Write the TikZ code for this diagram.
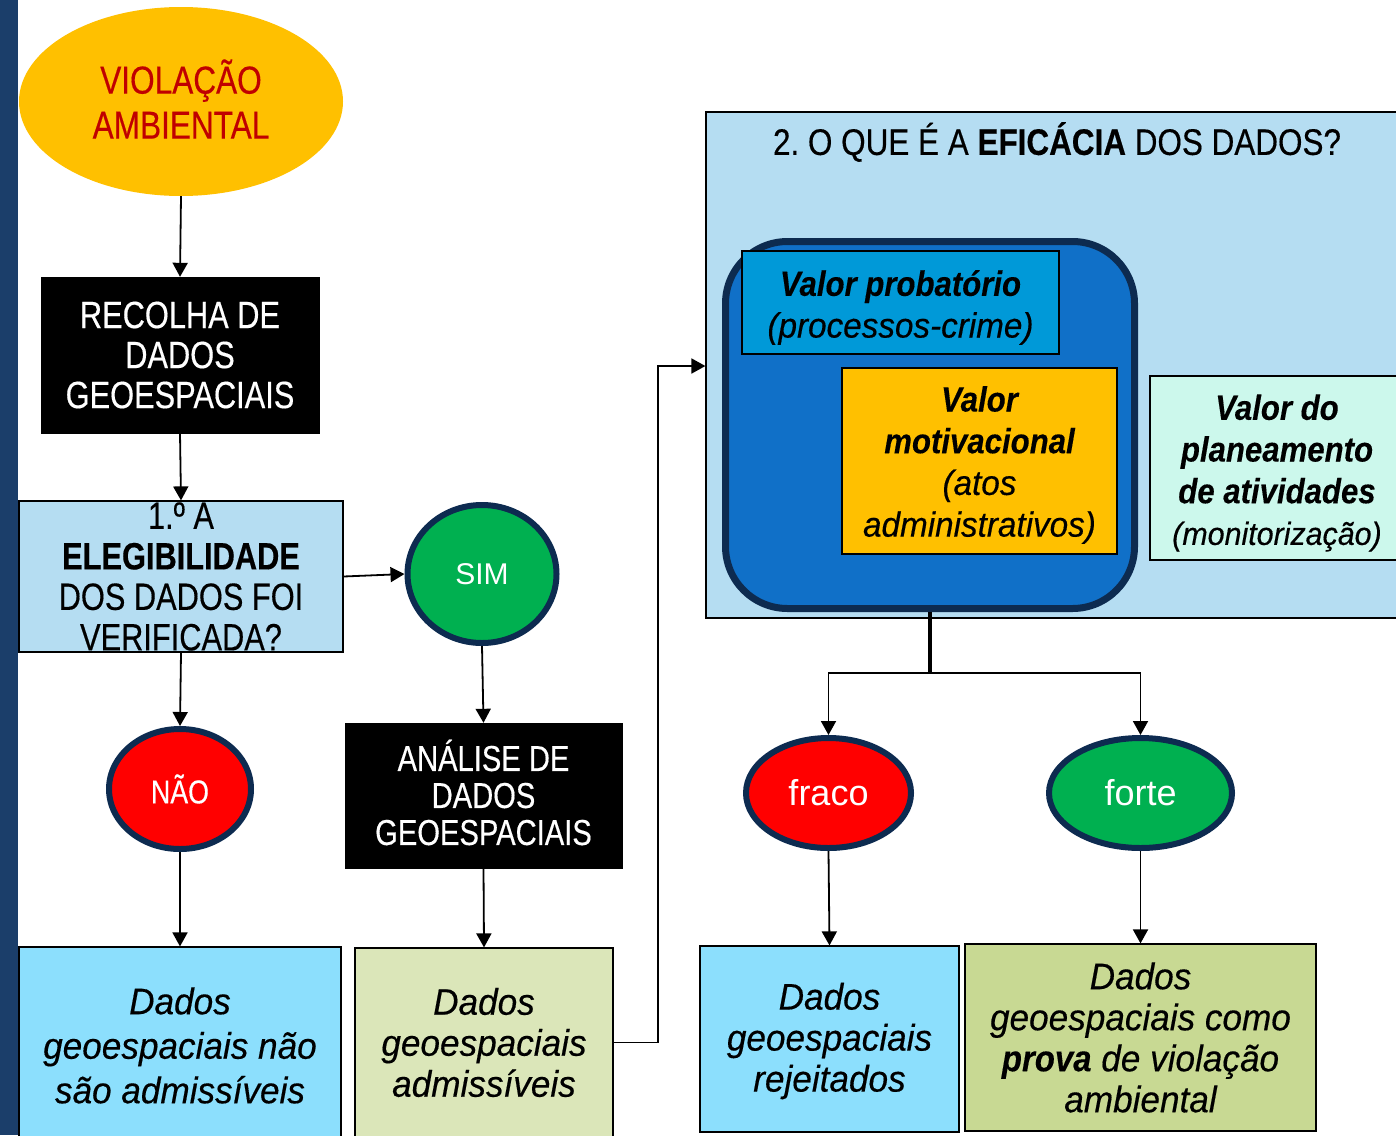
\documentclass[tikz,border=0pt]{standalone}
\usepackage{fontspec}
\setmainfont{Liberation Sans}[FakeStretch=0.81, FakeBold=0.35]
\newfontfamily\itfam{Liberation Sans}[FakeStretch=0.95, FakeBold=0.35]
\newfontfamily\bifam{Liberation Sans}[FakeStretch=0.89, FakeBold=0.2]
\newfontfamily\titlefam{Liberation Sans}[FakeStretch=0.85, FakeBold=0.35]
\newfontfamily\arialf{Liberation Sans}
\newcommand{\vbi}[1]{{\bifam\bfseries\itshape #1}}
\frenchspacing
\usetikzlibrary{shapes.geometric,arrows.meta,calc}
\definecolor{barblue}{HTML}{1B3E6A}
\definecolor{yel}{HTML}{FFC000}
\definecolor{redtxt}{HTML}{C00000}
\definecolor{lblue}{HTML}{B5DDF2}
\definecolor{grn}{HTML}{00B050}
\definecolor{navy}{HTML}{0D2B50}
\definecolor{rd}{HTML}{FF0000}
\definecolor{cyanbox}{HTML}{8CDFFD}
\definecolor{lgreen}{HTML}{DBE6B9}
\definecolor{midblue}{HTML}{1070C8}
\definecolor{probblue}{HTML}{0099D8}
\definecolor{mint}{HTML}{CCF8EC}
\definecolor{olive}{HTML}{C8D993}
\tikzset{
  arr/.style={-{Triangle[length=14pt,width=15pt]}, line width=1.8pt},
  blackbox/.style={rectangle, fill=black, draw=black, text=white, align=center, inner sep=0pt,
    font=\fontsize{38}{40}\selectfont},
  plainbox/.style={rectangle, draw=black, line width=1.2pt, align=center, inner sep=0pt},
  itbox/.style={plainbox, font=\fontsize{37}{41}\selectfont\itfam\itshape},
  valtext/.style={align=center, inner sep=0pt, font=\fontsize{35}{41.7}\selectfont\itfam\itshape},
  bubble/.style={ellipse, draw=navy, line width=6pt, text=white, inner sep=0pt},
}
\begin{document}
\begin{tikzpicture}[x=1pt,y=-1pt]
\useasboundingbox (0,0) rectangle (1396,1135);
\clip (0,0) rectangle (1396,1135);
\fill[white] (0,0) rectangle (1396,1135);
\fill[barblue] (0,0) rectangle (18,1135);

% left column
\node[ellipse, fill=yel, minimum width=324, minimum height=189, inner sep=0pt] (viol) at (181,101.5) {};
\node[text=redtxt, align=center, inner sep=0pt, font=\fontsize{39}{45}\selectfont] (violt)
  at ($(viol.center)+(0,-2.5)$) {VIOLAÇÃO\\AMBIENTAL};
\node[blackbox, minimum width=278, minimum height=156] (recolha) at (180,355)
  {RECOLHA DE\\DADOS\\GEOESPACIAIS};
\node[plainbox, fill=lblue, minimum width=324, minimum height=151,
  font=\fontsize{38}{40.5}\selectfont] (eleg) at (181,576.5)
  {1.º A\\\textbf{ELEGIBILIDADE}\\DOS DADOS FOI\\VERIFICADA?};
\node[bubble, fill=grn, minimum width=149, minimum height=138,
  font=\fontsize{30}{36}\selectfont\arialf] (sim) at (482,574) {SIM};
\node[bubble, fill=rd, minimum width=142, minimum height=120,
  font=\fontsize{33}{36}\selectfont] (nao) at (180,789) {NÃO};
\node[blackbox, minimum width=277, minimum height=145] (analise) at (483.5,795.5) {};
\node[text=white, align=center, inner sep=0pt, font=\fontsize{36}{37}\selectfont] (analiset)
  at ($(analise.center)+(0,-3)$) {ANÁLISE DE\\DADOS\\GEOESPACIAIS};
\node[itbox, fill=cyanbox, minimum width=322, minimum height=197,
  font=\fontsize{37}{44.5}\selectfont\itfam\itshape] (naoadm) at (180,1045.5)
  {Dados\\geoespaciais não\\são admissíveis};
\node[itbox, fill=lgreen, minimum width=258, minimum height=189] (adm) at (484,1042.5)
  {Dados\\geoespaciais\\admissíveis};

% right part
\node[plainbox, fill=lblue, minimum width=700, minimum height=506] (big) at (1056,365) {};
\node[font=\fontsize{37}{40}\selectfont\titlefam, inner sep=0pt] (title) at (1057,142)
  {2. O QUE É A \textbf{EFICÁCIA} DOS DADOS?};
\node[rectangle, rounded corners=62pt, draw=navy, fill=midblue, line width=7pt,
  minimum width=409, minimum height=367] (rr) at (930,425) {};
\node[plainbox, fill=probblue, minimum width=317, minimum height=103] (prob) at (900.5,302.5) {};
\node[valtext] (probt) at ($(prob.center)+(0,5)$) {\vbi{Valor probatório}\\(processos-crime)};
\node[plainbox, fill=yel, minimum width=275, minimum height=186] (motiv) at (979.5,461) {};
\node[valtext] (motivt) at ($(motiv.center)+(0,4)$)
  {\vbi{Valor}\\\vbi{motivacional}\\(atos\\administrativos)};
\node[plainbox, fill=mint, minimum width=254, minimum height=184] (plan) at (1277,468) {};
\node[valtext] (plant) at ($(plan.center)+(0,5)$)
  {\vbi{Valor do}\\\vbi{planeamento}\\\vbi{de atividades}\\{\fontsize{32}{40}\selectfont(monitorização)}};

\node[bubble, fill=rd, minimum width=165, minimum height=110,
  font=\fontsize{36}{40}\selectfont\arialf] (fraco) at (828.5,793) {fraco};
\node[bubble, fill=grn, minimum width=183, minimum height=110,
  font=\fontsize{36}{40}\selectfont\arialf] (forte) at (1140.5,793) {forte};
\node[itbox, fill=cyanbox, minimum width=259, minimum height=186] (rej) at (829.5,1039)
  {};
\node[align=center, inner sep=0pt, font=\fontsize{37}{41}\selectfont\itfam\itshape] (rejt)
  at ($(rej.center)+(0,2)$) {Dados\\geoespaciais\\rejeitados};
\node[itbox, fill=olive, minimum width=351, minimum height=187] (prova) at (1140.5,1037.5)
  {Dados\\geoespaciais como\\\vbi{prova} de violação\\ambiental};

% connectors
\draw[arr] (viol.south) -- (recolha.north);
\draw[arr] (recolha.south) -- (eleg.north);
\draw[arr] (eleg.east) -- (sim.west);
\draw[arr] (eleg.south) -- (nao.north);
\draw[arr] (sim.south) -- (analise.north);
\draw[arr] (nao.south) -- (naoadm.north);
\draw[arr] (analise.south) -- (adm.north);
\coordinate (bend) at (658,366);
\draw[arr] (adm.east) -| (bend) -- (bend -| big.west);
\coordinate (fork) at (930,673);
\draw[line width=4pt] (rr.south) -- (fork);
\draw[arr] (fork) -| (fraco.north);
\draw[arr] (fork) -| (forte.north);
\draw[arr] (fraco.south) -- (rej.north);
\draw[arr] (forte.south) -- (prova.north);
\end{tikzpicture}
\end{document}
